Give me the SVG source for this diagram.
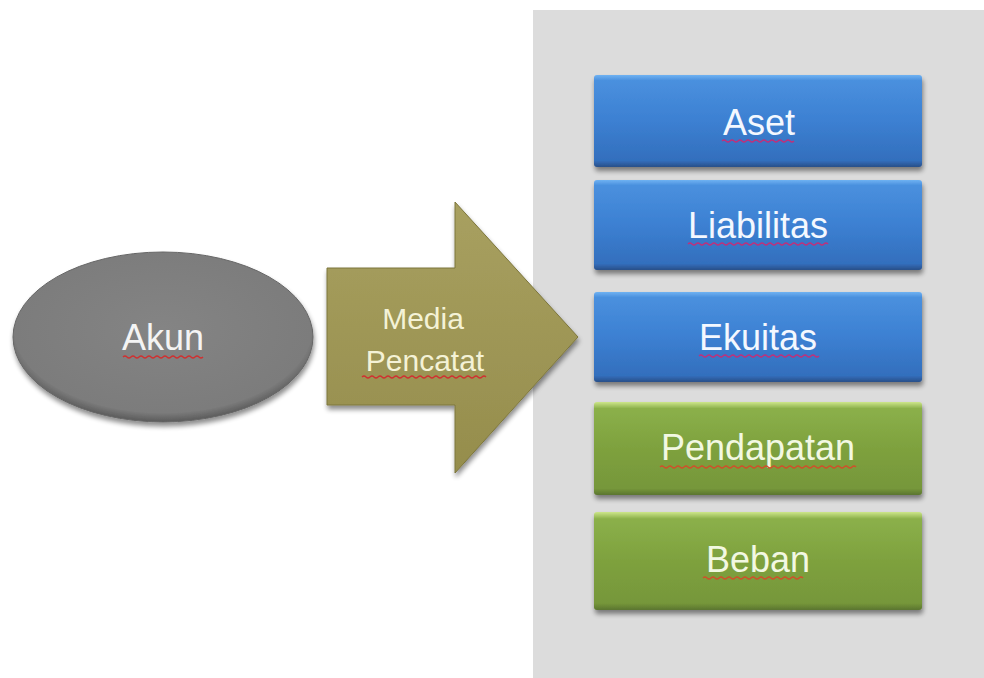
<svg xmlns="http://www.w3.org/2000/svg" width="984" height="678" viewBox="0 0 984 678">
<defs>
<style>
.lbl{font-family:"Liberation Sans",Arial,sans-serif;font-size:36px;text-anchor:middle}
.w{fill:#f4f8ff}
.c{fill:#f4f2d6}
.g{fill:#f2f8e2}
.sq{fill:none;stroke-width:1.3}
</style>
<linearGradient id="blue" x1="0" y1="0" x2="0" y2="1">
<stop offset="0" stop-color="#6fb2f2"/>
<stop offset="0.06" stop-color="#4a90de"/>
<stop offset="0.5" stop-color="#3c80d2"/>
<stop offset="0.93" stop-color="#336fbd"/>
<stop offset="1" stop-color="#294f88"/>
</linearGradient>
<linearGradient id="green" x1="0" y1="0" x2="0" y2="1">
<stop offset="0" stop-color="#cde68a"/>
<stop offset="0.07" stop-color="#8bb04a"/>
<stop offset="0.5" stop-color="#7ea13e"/>
<stop offset="0.93" stop-color="#76973a"/>
<stop offset="1" stop-color="#5b7530"/>
</linearGradient>
<linearGradient id="olive" x1="0" y1="0" x2="0" y2="1">
<stop offset="0" stop-color="#a8a060"/>
<stop offset="1" stop-color="#958d4c"/>
</linearGradient>
<radialGradient id="grey" cx="0.5" cy="0.45" r="0.55">
<stop offset="0" stop-color="#848484"/>
<stop offset="0.9" stop-color="#7c7c7c"/>
<stop offset="1" stop-color="#5a5a5a"/>
</radialGradient>
<filter id="sh" x="-10%" y="-10%" width="125%" height="135%">
<feGaussianBlur in="SourceAlpha" stdDeviation="2.5"/>
<feOffset dx="1" dy="4" result="b"/>
<feComponentTransfer><feFuncA type="linear" slope="0.45"/></feComponentTransfer>
<feMerge><feMergeNode/><feMergeNode in="SourceGraphic"/></feMerge>
</filter>
</defs>
<rect x="0" y="0" width="984" height="678" fill="#ffffff"/>
<rect id="panel" x="533" y="10" width="451" height="668" fill="#dcdcdc"/>

<g id="connectors"></g>

<g id="akun">
<ellipse cx="163" cy="337" rx="150" ry="85" fill="url(#grey)" stroke="#666" stroke-width="1" filter="url(#sh)"/>
<text class="lbl" x="163" y="350" fill="#f4f4f4">Akun</text>
<path class="sq" stroke="#d03030" d="M123 357 q2 -2 4 0 t4 0 t4 0 t4 0 t4 0 t4 0 t4 0 t4 0 t4 0 t4 0 t4 0 t4 0 t4 0 t4 0 t4 0 t4 0 t4 0 t4 0 t4 0 t4 0"/>
</g>

<g id="media-pencatat">
<path d="M327 268 L455 268 L455 202 L578 337 L455 473 L455 405 L327 405 Z" fill="url(#olive)" stroke="#7d763c" stroke-width="1" filter="url(#sh)"/>
<text class="lbl c" x="423" y="329" style="font-size:30px">Media</text>
<text class="lbl c" x="425" y="371" style="font-size:30px">Pencatat</text>
<path class="sq" stroke="#d03030" d="M362 377 q2 -2 4 0 t4 0 t4 0 t4 0 t4 0 t4 0 t4 0 t4 0 t4 0 t4 0 t4 0 t4 0 t4 0 t4 0 t4 0 t4 0 t4 0 t4 0 t4 0 t4 0 t4 0 t4 0 t4 0 t4 0 t4 0 t4 0 t4 0 t4 0 t4 0 t4 0 t4 0"/>
</g>

<g id="aset">
<rect x="594" y="75" width="328" height="92" rx="3" fill="url(#blue)" filter="url(#sh)"/>
<text class="lbl w" x="759" y="135">Aset</text>
<path class="sq" stroke="#c0307a" d="M722 141 q2 -2 4 0 t4 0 t4 0 t4 0 t4 0 t4 0 t4 0 t4 0 t4 0 t4 0 t4 0 t4 0 t4 0 t4 0 t4 0 t4 0 t4 0 t4 0"/>
</g>

<g id="liabilitas">
<rect x="594" y="180" width="328" height="90" rx="3" fill="url(#blue)" filter="url(#sh)"/>
<text class="lbl w" x="758" y="238">Liabilitas</text>
<path class="sq" stroke="#c0307a" d="M688 244 q2 -2 4 0 t4 0 t4 0 t4 0 t4 0 t4 0 t4 0 t4 0 t4 0 t4 0 t4 0 t4 0 t4 0 t4 0 t4 0 t4 0 t4 0 t4 0 t4 0 t4 0 t4 0 t4 0 t4 0 t4 0 t4 0 t4 0 t4 0 t4 0 t4 0 t4 0 t4 0 t4 0 t4 0 t4 0 t4 0"/>
</g>

<g id="ekuitas">
<rect x="594" y="292" width="328" height="90" rx="3" fill="url(#blue)" filter="url(#sh)"/>
<text class="lbl w" x="758" y="350">Ekuitas</text>
<path class="sq" stroke="#c0307a" d="M699 356 q2 -2 4 0 t4 0 t4 0 t4 0 t4 0 t4 0 t4 0 t4 0 t4 0 t4 0 t4 0 t4 0 t4 0 t4 0 t4 0 t4 0 t4 0 t4 0 t4 0 t4 0 t4 0 t4 0 t4 0 t4 0 t4 0 t4 0 t4 0 t4 0 t4 0 t4 0"/>
</g>

<g id="pendapatan">
<rect x="594" y="402" width="328" height="93" rx="3" fill="url(#green)" filter="url(#sh)"/>
<text class="lbl g" x="758" y="460">Pendapatan</text>
<path class="sq" stroke="#d0502a" d="M660 467 q2 -2 4 0 t4 0 t4 0 t4 0 t4 0 t4 0 t4 0 t4 0 t4 0 t4 0 t4 0 t4 0 t4 0 t4 0 t4 0 t4 0 t4 0 t4 0 t4 0 t4 0 t4 0 t4 0 t4 0 t4 0 t4 0 t4 0 t4 0 t4 0 t4 0 t4 0 t4 0 t4 0 t4 0 t4 0 t4 0 t4 0 t4 0 t4 0 t4 0 t4 0 t4 0 t4 0 t4 0 t4 0 t4 0 t4 0 t4 0 t4 0 t4 0"/>
</g>

<g id="beban">
<rect x="594" y="512" width="328" height="98" rx="3" fill="url(#green)" filter="url(#sh)"/>
<text class="lbl g" x="758" y="572">Beban</text>
<path class="sq" stroke="#d0502a" d="M703 578 q2 -2 4 0 t4 0 t4 0 t4 0 t4 0 t4 0 t4 0 t4 0 t4 0 t4 0 t4 0 t4 0 t4 0 t4 0 t4 0 t4 0 t4 0 t4 0 t4 0 t4 0 t4 0 t4 0 t4 0 t4 0 t4 0"/>
</g>
</svg>
